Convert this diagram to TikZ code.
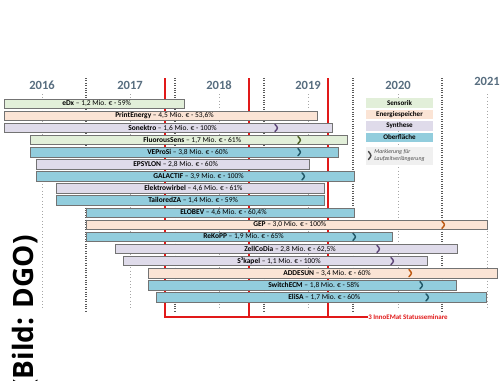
\documentclass[tikz,border=0pt]{standalone}
\usepackage{fontspec}
\setmainfont{Carlito}
\newfontfamily\bildfont{Open Sans}
\usepackage{tikz}
\usetikzlibrary{positioning, calc}
\definecolor{sensorik}{RGB}{226,239,217}
\definecolor{speicher}{RGB}{251,228,213}
\definecolor{synthese}{RGB}{223,219,234}
\definecolor{oberflaeche}{RGB}{146,205,221}
\definecolor{sensorikd}{RGB}{79,98,40}
\definecolor{speicherd}{RGB}{190,90,20}
\definecolor{synthesed}{RGB}{96,73,122}
\definecolor{oberflaeched}{RGB}{33,88,104}
\definecolor{jahrgrau}{RGB}{88,110,128}
\definecolor{rotlich}{RGB}{225,25,25}
\tikzset{>=stealth,
  balken/.style={draw=black!55, line width=0.6pt},
  btxt/.style={font=\fontsize{5.6}{6}\selectfont, anchor=west, inner sep=0pt},
  ltxt/.style={font=\fontsize{5.3}{6}\selectfont\bfseries, inner sep=0pt},
  jahr/.style={font=\fontsize{9.4}{10}\selectfont\bfseries, text=jahrgrau},
  verl/.style={line width=1.1pt, line cap=round},
  trenner/.style={black!65, densely dotted, line width=0.8pt},
  hilfs/.style={black!35, dotted, line width=0.5pt},
  seminar/.style={rotlich, line width=1.1pt}}

\begin{document}
\begin{tikzpicture}[x=0.75pt, y=-0.75pt]
	\useasboundingbox (0,0) rectangle (500,380);
	\fill [white] (0,0) rectangle (500,380);
	% years
	\node [jahr] (j2016) at (42,85) {2016};
	\node [jahr] (j2017) at (130,85) {2017};
	\node [jahr] (j2018) at (219,85) {2018};
	\node [jahr] (j2019) at (308,85) {2019};
	\node [jahr] (j2020) at (398,85) {2020};
	\node [jahr] (j2021) at (487,81) {2021};
	\draw [hilfs] (42,94) -- (42,308);
	\draw [hilfs] (130,94) -- (130,308);
	\draw [hilfs] (219,94) -- (219,308);
	\draw [hilfs] (308,94) -- (308,308);
	\draw [hilfs] (398,94) -- (398,308);
	\draw [hilfs] (487,94) -- (487,308);
	\draw [trenner] (86,78) -- (86,311);
	\draw [trenner] (175,78) -- (175,311);
	\draw [trenner] (264,78) -- (264,311);
	\draw [trenner] (353,78) -- (353,311);
	\draw [trenner] (442,78) -- (442,311);
	% status seminars
	\node [anchor=west, inner sep=0pt, text=rotlich, font=\fontsize{5.2}{6}\selectfont\bfseries] (seminare) at (368,317) {3 InnoEMat Statusseminare};
	\draw [seminar] (165,78) -- (165,317) -- (seminare.west);
	\draw [seminar] (249,78) -- (249,317);
	\draw [seminar] (328,78) -- (328,317);

	\draw [balken, fill=sensorik] (4,99) rectangle (184,108.5);
	\node [btxt] (edx) at (62,103.75) {\textbf{eDx} – 1,2 Mio. € - 59\%};
	\draw [balken, fill=speicher] (4,111.1) rectangle (317,120.6);
	\node [btxt] (printenergy) at (115,115.85) {\textbf{PrintEnergy} – 4,5 Mio. € - 53,6\%};
	\draw [balken, fill=synthese] (4,123.2) rectangle (332,132.7);
	\node [btxt] (sonektro) at (128,127.95) {\textbf{Sonektro} – 1,6 Mio. € - 100\%};
	\draw [verl, synthesed] (275,124.4) .. controls (278.2,127.95) .. (275,131.5);
	\draw [balken, fill=sensorik] (30,135.3) rectangle (347,144.8);
	\node [btxt] (fluorous) at (143,140.05) {\textbf{FluorousSens} – 1,7 Mio. € - 61\%};
	\draw [verl, sensorikd] (298,136.5) .. controls (301.2,140.05) .. (298,143.6);
	\draw [balken, fill=oberflaeche] (30,147.4) rectangle (338,156.9);
	\node [btxt] (veprosi) at (147,152.15) {\textbf{VEProSi} – 3,8 Mio. € - 60\%};
	\draw [verl, oberflaeched] (298,148.6) .. controls (301.2,152.15) .. (298,155.7);
	\draw [balken, fill=synthese] (36,159.5) rectangle (309,169);
	\node [btxt] (epsylon) at (133,164.25) {\textbf{EPSYLON} – 2,8 Mio. € - 60\%};
	\draw [balken, fill=oberflaeche] (36,171.6) rectangle (354,181.1);
	\node [btxt] (galactif) at (153,176.35) {\textbf{GALACTIF} – 3,9 Mio. € - 100\%};
	\draw [verl, oberflaeched] (302,172.8) .. controls (305.2,176.35) .. (302,179.9);
	\draw [balken, fill=synthese] (56,183.7) rectangle (324,193.2);
	\node [btxt] (elektrowirbel) at (144,188.45) {\textbf{Elektrowirbel} – 4,6 Mio. € - 61\%};
	\draw [balken, fill=oberflaeche] (56,195.8) rectangle (324,205.3);
	\node [btxt] (tailoredza) at (148,200.55) {\textbf{TailoredZA} – 1,4 Mio. € - 59\%};
	\draw [balken, fill=oberflaeche] (86,207.9) rectangle (354,217.4);
	\node [btxt] (elobev) at (180,212.65) {\textbf{ELOBEV} – 4,6 Mio. € - 60,4\%};
	\draw [balken, fill=speicher] (86,220) rectangle (487,229.5);
	\node [btxt] (gep) at (253,224.75) {\textbf{GEP} – 3,0 Mio. € - 100\%};
	\draw [verl, speicherd] (442,221.2) .. controls (445.2,224.75) .. (442,228.3);
	\draw [balken, fill=oberflaeche] (86,232.1) rectangle (392,241.6);
	\node [btxt] (rekopp) at (203,236.85) {\textbf{ReKoPP} – 1,9 Mio. € - 65\%};
	\draw [verl, oberflaeched] (353,233.3) .. controls (356.2,236.85) .. (353,240.4);
	\draw [balken, fill=synthese] (115,244.2) rectangle (457,253.7);
	\node [btxt] (zellcodia) at (244,248.95) {\textbf{ZellCoDia} – 2,8 Mio. € - 62,5\%};
	\draw [verl, synthesed] (377,245.4) .. controls (380.2,248.95) .. (377,252.5);
	\draw [balken, fill=synthese] (123,256.3) rectangle (427,265.8);
	\node [btxt] (skapel) at (237,261.05) {\textbf{S³kapel} – 1,1 Mio. € - 100\%};
	\draw [verl, synthesed] (391,257.5) .. controls (394.2,261.05) .. (391,264.6);
	\draw [balken, fill=speicher] (148,268.4) rectangle (497,277.9);
	\node [btxt] (addesun) at (283,273.15) {\textbf{ADDESUN} – 3,4 Mio. € - 60\%};
	\draw [verl, speicherd] (409,269.6) .. controls (412.2,273.15) .. (409,276.7);
	\draw [balken, fill=oberflaeche] (148,280.5) rectangle (456,290);
	\node [btxt] (switchecm) at (268,285.25) {\textbf{SwitchECM} – 1,8 Mio. € - 58\%};
	\draw [verl, oberflaeched] (420,281.7) .. controls (423.2,285.25) .. (420,288.8);
	\draw [balken, fill=oberflaeche] (156,292.6) rectangle (486,302.1);
	\node [btxt] (elisa) at (288,297.35) {\textbf{EliSA} – 1,7 Mio. € - 60\%};
	\draw [verl, oberflaeched] (426,293.8) .. controls (429.2,297.35) .. (426,300.9);

	% legend
	\fill [sensorik] (366,98) rectangle (433,107.5);
	\node [ltxt] (lsens) at (399.5,102.75) {Sensorik};
	\fill [speicher] (366,109.5) rectangle (433,119);
	\node [ltxt] (lspeicher) at (399.5,114.25) {Energiespeicher};
	\fill [synthese] (366,121) rectangle (433,130.5);
	\node [ltxt] (lsynth) at (399.5,125.75) {Synthese};
	\fill [oberflaeche] (366,132.5) rectangle (433,142);
	\node [ltxt] (lober) at (399.5,137.25) {Oberfläche};
	\fill [black!6] (366,147) rectangle (433,165);
	\draw [verl, black!70] (368.5,151.5) .. controls (371.7,155.5) .. (368.5,159.5);
	\node [anchor=west, align=left, inner sep=0pt, text=black!70, font=\fontsize{4.4}{5.4}\selectfont\itshape] (lnotiz) at (374,155.5) {Markierung für\\Laufzeitverlängerung};

	\node [rotate=90, anchor=base east, inner sep=0pt, font=\bildfont\bfseries\fontsize{21}{24}\selectfont] (bild) at (33,235) {(Bild: DGO)};
\end{tikzpicture}
\end{document}
